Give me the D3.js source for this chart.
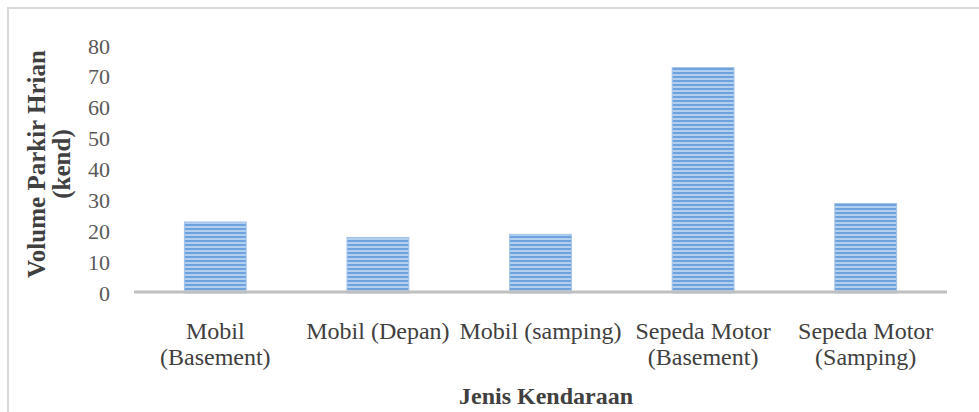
<!DOCTYPE html>
<html lang="id">
    <head>
        <meta charset="UTF-8">
        <title>Volume Parkir Harian</title>
        <script type="text/javascript" src="https://d3js.org/d3.v7.min.js"></script>
        <style>
         body { margin: 0; background: #fff; font-family: "Liberation Serif", "Times New Roman", serif; }
        </style>
    </head>
    <body>
      <div id="svgcontainer"></div>
        <script>
            // data
            const categories = [
                ["Mobil", "(Basement)"],
                ["Mobil (Depan)"],
                ["Mobil (samping)"],
                ["Sepeda Motor", "(Basement)"],
                ["Sepeda Motor", "(Samping)"]
            ];
            const values = [23, 18, 19, 73, 29];
            const yTicks = [0, 10, 20, 30, 40, 50, 60, 70, 80];

            const width = 979, height = 412;
            const plotLeft = 134, plotRight = 947, plotTop = 46, plotBottom = 293;

            const svg = d3.select("#svgcontainer")
                .append("svg")
                .attr("width", width)
                .attr("height", height);

            // striped fill for the bars
            const pat = svg.append("defs").append("pattern")
                .attr("id", "stripes")
                .attr("patternUnits", "userSpaceOnUse")
                .attr("width", 8).attr("height", 4);
            pat.append("rect").attr("width", 8).attr("height", 4).attr("fill", "#b3cfef");
            pat.append("rect").attr("y", 0).attr("width", 8).attr("height", 2).attr("fill", "#6ea2dc");

            // light frame round the chart
            svg.append("rect")
                .attr("x", 8).attr("y", 8)
                .attr("width", 1000).attr("height", 600)
                .attr("fill", "none")
                .attr("stroke", "#d9d9d9")
                .attr("stroke-width", 2);

            const x = d3.scaleBand()
                .domain(d3.range(categories.length))
                .range([plotLeft, plotRight])
                .paddingInner(0.62)
                .paddingOuter(0.31);

            const y = d3.scaleLinear()
                .domain([0, 80])
                .range([plotBottom, plotTop]);

            // bars
            svg.selectAll(".bar")
                .data(values)
                .enter().append("rect")
                .attr("class", "bar")
                .attr("x", (d, i) => x(i))
                .attr("y", d => y(d))
                .attr("width", x.bandwidth())
                .attr("height", d => y(0) - y(d))
                .attr("fill", "url(#stripes)")
                .attr("stroke", "#9fc2ea")
                .attr("stroke-width", 1);

            // y axis labels
            const yAxis = svg.append("g")
                .attr("transform", `translate(${plotLeft - 24},0)`)
                .call(d3.axisLeft(y).tickValues(yTicks).tickSize(0).tickPadding(0));
            yAxis.select(".domain").remove();
            yAxis.selectAll("text")
                .attr("font-family", "Liberation Serif")
                .attr("font-size", 22)
                .attr("fill", "#595959");

            // baseline
            svg.append("line")
                .attr("x1", plotLeft).attr("x2", plotRight)
                .attr("y1", y(0) - 1).attr("y2", y(0) - 1)
                .attr("stroke", "#bfbfbf")
                .attr("stroke-width", 3);

            // category labels
            const cat = svg.selectAll(".cat")
                .data(categories)
                .enter().append("text")
                .attr("class", "cat")
                .attr("text-anchor", "middle")
                .attr("font-size", 24)
                .attr("fill", "#404040")
                .attr("transform", (d, i) => `translate(${x(i) + x.bandwidth() / 2},339)`);
            cat.selectAll("tspan")
                .data(d => d)
                .enter().append("tspan")
                .attr("x", 0)
                .attr("dy", (d, i) => i === 0 ? 0 : 26)
                .text(d => d);

            // axis titles
            svg.append("text")
                .attr("x", 546).attr("y", 404)
                .attr("text-anchor", "middle")
                .attr("font-size", 24)
                .attr("font-weight", "bold")
                .attr("fill", "#404040")
                .text("Jenis Kendaraan");

            const yTitle = svg.append("text")
                .attr("transform", "translate(45,164) rotate(-90)")
                .attr("text-anchor", "middle")
                .attr("font-size", 25)
                .attr("font-weight", "bold")
                .attr("fill", "#404040");
            yTitle.append("tspan").attr("x", 0).attr("dy", 0).text("Volume Parkir Hrian");
            yTitle.append("tspan").attr("x", 0).attr("dy", 25).text("(kend)");
        </script>
    </body>
</html>
